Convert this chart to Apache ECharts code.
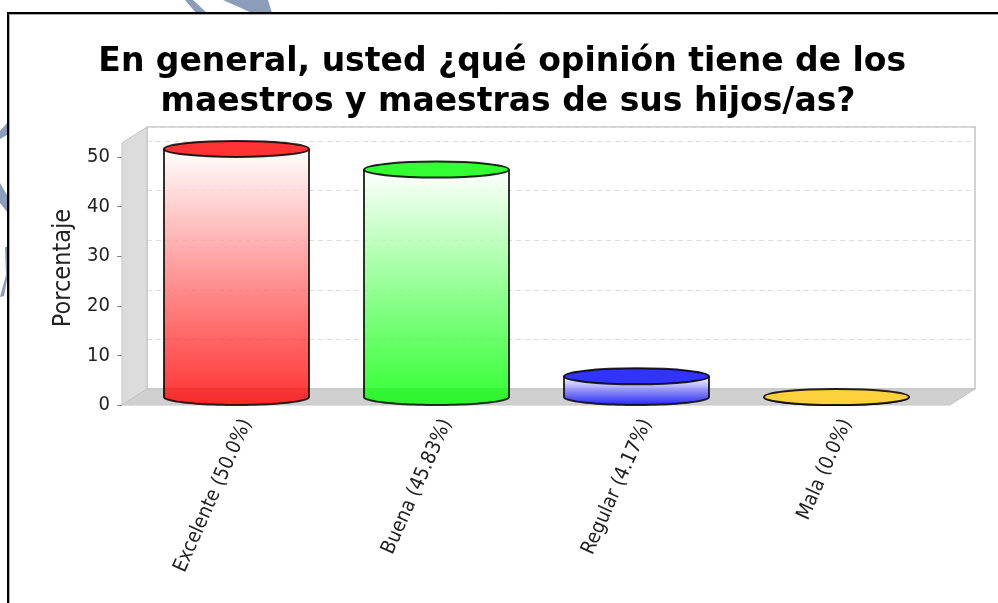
<!DOCTYPE html>
<html>
<head>
<meta charset="utf-8">
<style>html,body{margin:0;padding:0;background:#fff}#c{width:998px;height:603px}</style>
<script src="https://cdn.jsdelivr.net/npm/echarts@6/dist/echarts.min.js"></script>
</head>
<body>
<div id="c"></div>
<script>
const titleText = "En general, usted ¿qué opinión tiene de los \nmaestros y maestras de sus hijos/as?";
const yAxisName = "Porcentaje";
const categories = ["Excelente (50.0%)", "Buena (45.83%)", "Regular (4.17%)", "Mala (0.0%)"];
const values = [50.0, 45.83, 4.17, 0.0];
const barColors = ["#ff0000", "#00ff00", "#0000ff", "#fcc60a"];
const yMax = 52.8;
const yTicks = 10;
const depthX = 25, depthY = 16;

function rgba(hex, a) {
  const n = parseInt(hex.slice(1), 16);
  return `rgba(${n >> 16},${(n >> 8) & 255},${n & 255},${a})`;
}

const chart = echarts.init(document.getElementById('c'), null, {renderer: 'canvas'});
const swirl = '#8b9db8', wallLine = '#c4c4c4';
const labelFont = 'DejaVu Sans Condensed';

chart.setOption({
  animation: false,
  backgroundColor: '#fff',
  title: {
    text: titleText, left: 503, top: 37, textAlign: 'center',
    textStyle: {fontFamily: 'DejaVu Sans', fontWeight: 'bold', fontSize: 33, lineHeight: 40, color: '#000'}
  },
  grid: [
    {left: 124, top: 143, width: 800, height: 262},
    {left: 147, top: 127, width: 828, height: 262, show: true, backgroundColor: '#fff', borderColor: wallLine, borderWidth: 1.5}
  ],
  xAxis: [
    {type: 'category', gridIndex: 0, data: categories,
     axisLine: {show: false}, axisTick: {show: false},
     axisLabel: {rotate: 66, interval: 0, margin: 5, verticalAlign: 'top', lineHeight: 50, fontFamily: labelFont, fontSize: 20, color: '#222'}},
    {type: 'category', gridIndex: 1, data: categories, show: false}
  ],
  yAxis: [
    {type: 'value', gridIndex: 0, min: 0, max: yMax, interval: yTicks, offset: 2,
     name: yAxisName, nameLocation: 'middle', nameGap: 45,
     nameTextStyle: {fontFamily: labelFont, fontSize: 25, color: '#222', padding: [0, 0, 0, 12]},
     axisLine: {show: false},
     axisTick: {show: true, length: 5, lineStyle: {color: '#888'}},
     axisLabel: {margin: 12, fontFamily: labelFont, fontSize: 20, color: '#222'},
     splitLine: {show: false}},
    {type: 'value', gridIndex: 1, min: 0, max: yMax, interval: yTicks,
     axisLine: {show: false}, axisTick: {show: false}, axisLabel: {show: false},
     splitLine: {show: true, lineStyle: {color: '#dddddd', type: [5, 4], width: 1}}}
  ],
  graphic: [
    {type: 'polygon', z: 1, silent: true, shape: {points: [[122,143],[147,127],[147,389],[122,405]]},
     style: {fill: '#dcdcdc', stroke: wallLine, lineWidth: 1}},
    {type: 'polygon', z: 1, silent: true, shape: {points: [[122,405],[147,389],[975,389],[950,405]]},
     style: {fill: '#d0d0d0', stroke: wallLine, lineWidth: 1}},
    {type: 'polygon', z: 0, silent: true, shape: {points: [[185,0],[193,0],[207,13],[196,13]]}, style: {fill: swirl}},
    {type: 'polygon', z: 0, silent: true, shape: {points: [[223,0],[268,0],[272,13],[252,13]]}, style: {fill: swirl}},
    {type: 'polygon', z: 0, silent: true, shape: {points: [[0,131],[7,123],[7,135],[0,139]]}, style: {fill: swirl}},
    {type: 'polygon', z: 0, silent: true, shape: {points: [[0,183],[7,195],[7,212],[0,203]]}, style: {fill: swirl}},
    {type: 'polygon', z: 0, silent: true, shape: {points: [[5,247],[7,247],[7,280],[4,296],[0,297],[6,275]]}, style: {fill: swirl}},
    {type: 'line', z: 3, silent: true, shape: {x1: 9.5, y1: 603, x2: 9.5, y2: 14}, style: {stroke: '#aaaaaa', lineWidth: 1}},
    {type: 'line', z: 3, silent: true, shape: {x1: 9, y1: 14.5, x2: 998, y2: 14.5}, style: {stroke: '#aaaaaa', lineWidth: 1}},
    {type: 'line', z: 3, silent: true, shape: {x1: 8, y1: 603, x2: 8, y2: 13}, style: {stroke: '#000', lineWidth: 2}},
    {type: 'line', z: 3, silent: true, shape: {x1: 7, y1: 13, x2: 998, y2: 13}, style: {stroke: '#000', lineWidth: 2}}
  ],
  series: [{
    type: 'custom',
    xAxisIndex: 0, yAxisIndex: 0, z: 5,
    clip: false,
    data: values.map((v, i) => [i, v]),
    renderItem(params, api) {
      const i = api.value(0), v = api.value(1);
      const top = api.coord([i, v]), base = api.coord([i, 0]);
      const band = api.size([1, 0])[0];
      const cx = top[0] + depthX / 2;
      const rx = band * 0.3625, ry = depthY / 2;
      const yT = top[1] - depthY / 2, yB = base[1] - depthY / 2;
      const col = barColors[i];
      const rim = [[cx + rx, yT]];
      for (let k = 0; k <= 48; k++) {
        const a = Math.PI * k / 48;
        rim.push([cx + rx * Math.cos(a), yB + ry * Math.sin(a)]);
      }
      rim.push([cx - rx, yT]);
      return {
        type: 'group',
        children: [
          {type: 'polygon', shape: {points: rim}, style: {
            fill: new echarts.graphic.LinearGradient(0, 0, 0, 1, [
              {offset: 0, color: 'rgba(255,255,255,0.85)'},
              {offset: 1, color: rgba(col, 0.8)}
            ])}},
          {type: 'polyline', shape: {points: rim}, style: {
            fill: 'none', stroke: 'rgba(0,0,0,0.8)', lineWidth: 2}},
          {type: 'ellipse', shape: {cx: cx, cy: yT, rx: rx, ry: ry}, style: {
            fill: '#fff', stroke: 'none'}},
          {type: 'ellipse', shape: {cx: cx, cy: yT, rx: rx, ry: ry}, style: {
            fill: rgba(col, 0.8), stroke: 'rgba(0,0,0,0.85)', lineWidth: 2}}
        ]
      };
    }
  }]
});
</script>
</body>
</html>
